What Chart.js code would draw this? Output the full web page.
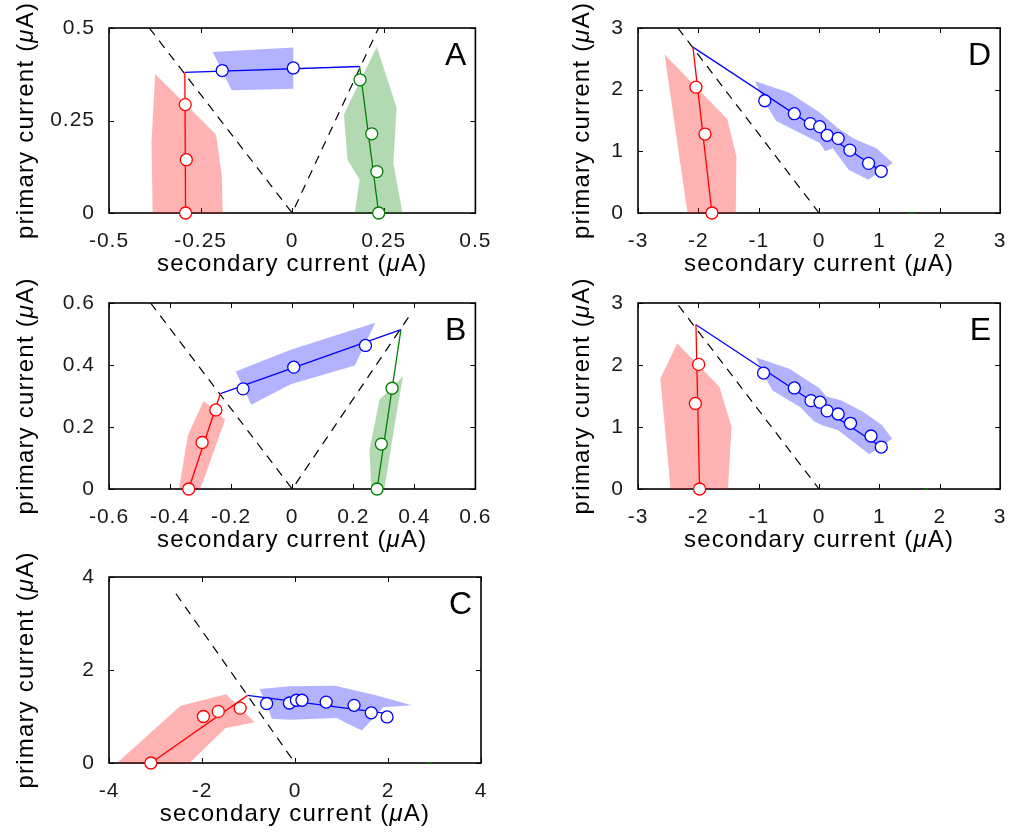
<!DOCTYPE html>
<html>
<head>
<meta charset="utf-8">
<script src="https://cdn.jsdelivr.net/npm/chart.js@4.4.1/dist/chart.umd.min.js"></script>
<style>
  html, body { margin: 0; padding: 0; background: #fff; }
  #fig { position: relative; width: 1022px; height: 834px; background: #fff; overflow: hidden; }
  canvas { position: absolute; }
</style>
</head>
<body>
<div id="fig"></div>
<script>
// ---- panel A ----
const aXTicks = [-0.5, -0.25, 0, 0.25, 0.5];
const aYTicks = [0, 0.25, 0.5];
const aRedBand = [[-0.374, 0.376], [-0.384, 0.189], [-0.381, 0], [-0.190, 0], [-0.192, 0.099], [-0.208, 0.212]];
const aBlueBand = [[-0.217, 0.435], [0.003, 0.447], [0.003, 0.336], [-0.165, 0.332]];
const aGreenBand = [[0.231, 0.449], [0.285, 0.284], [0.276, 0.135], [0.301, 0], [0.171, 0], [0.184, 0.090], [0.151, 0.144], [0.141, 0.266]];
const aRedLine = [[-0.293, 0.380], [-0.291, 0]];
const aBlueLine = [[-0.293, 0.380], [0.184, 0.396]];
const aGreenLine = [[0.184, 0.396], [0.236, 0]];
const aRedPts = [[-0.292, 0.293], [-0.289, 0.144], [-0.291, 0]];
const aBluePts = [[-0.191, 0.385], [0.003, 0.392]];
const aGreenPts = [[0.185, 0.360], [0.217, 0.214], [0.231, 0.112], [0.236, 0]];
const aDash = [[-0.39, 0.5], [0, 0], [0.238, 0.505]];

// ---- panel B ----
const bXTicks = [-0.6, -0.4, -0.2, 0, 0.2, 0.4, 0.6];
const bYTicks = [0, 0.2, 0.4, 0.6];
const bRedBand = [[-0.29, 0.285], [-0.220, 0.223], [-0.301, 0], [-0.371, 0], [-0.341, 0.175]];
const bBlueBand = [[-0.185, 0.379], [-0.005, 0.449], [0.272, 0.536], [0.205, 0.398], [-0.005, 0.338], [-0.134, 0.272]];
const bGreenBand = [[0.363, 0.363], [0.340, 0.234], [0.302, 0], [0.259, 0], [0.253, 0.126], [0.286, 0.288]];
const bRedLine = [[-0.235, 0.308], [-0.339, 0]];
const bBlueLine = [[-0.235, 0.308], [0.356, 0.514]];
const bGreenLine = [[0.356, 0.514], [0.278, 0]];
const bRedPts = [[-0.250, 0.255], [-0.295, 0.150], [-0.339, 0]];
const bBluePts = [[-0.161, 0.323], [0.005, 0.393], [0.240, 0.463]];
const bGreenPts = [[0.327, 0.325], [0.292, 0.145], [0.278, 0]];
const bDash = [[-0.464, 0.6], [0, 0], [0.383, 0.557]];

// ---- panel C ----
const cXTicks = [-4, -2, 0, 2, 4];
const cYTicks = [0, 2, 4];
const cRedBand = [[-3.83, 0], [-2.46, 1.23], [-1.48, 1.48], [-0.87, 0.875], [-1.50, 0.75], [-2.27, 0]];
const cBlueBand = [[-0.764, 1.59], [-0.104, 1.65], [0.864, 1.66], [1.76, 1.45], [2.51, 1.24], [1.90, 1.20], [1.44, 0.70], [1.12, 0.85], [0.90, 0.97], [-0.104, 0.93], [-0.50, 0.95], [-0.57, 1.18]];
const cRedLine = [[-3.10, 0], [-1.02, 1.455]];
const cBlueLine = [[-1.02, 1.455], [2.0, 1.06]];
const cRedPts = [[-3.10, 0], [-1.97, 1.00], [-1.65, 1.11], [-1.18, 1.18]];
const cBluePts = [[-0.61, 1.28], [-0.12, 1.29], [0.03, 1.35], [0.15, 1.35], [0.67, 1.31], [1.27, 1.24], [1.64, 1.08], [1.98, 0.99]];
const cGreenMark = [[2.85, 0], [2.92, 0]];
const cDash = [[-2.56, 3.64], [0, 0]];

// ---- panel D ----
const dXTicks = [-3, -2, -1, 0, 1, 2, 3];
const dYTicks = [0, 1, 2, 3];
const dRedBand = [[-2.56, 2.57], [-1.52, 1.52], [-1.37, 0.92], [-1.38, 0], [-2.18, 0]];
const dBlueBand = [[-1.06, 2.135], [-0.49, 1.95], [0.01, 1.63], [0.31, 1.38], [0.57, 1.21], [0.95, 1.05], [1.22, 0.81], [0.815, 0.54], [0.49, 0.70], [0.225, 1.05], [0.10, 1.00], [0.01, 1.135], [-0.71, 1.49], [-0.93, 1.84]];
const dRedLine = [[-2.09, 2.69], [-1.775, 0]];
const dBlueLine = [[-2.09, 2.69], [1.02, 0.686]];
const dRedPts = [[-2.04, 2.04], [-1.89, 1.28], [-1.775, 0]];
const dBluePts = [[-0.90, 1.82], [-0.41, 1.61], [-0.145, 1.45], [0.01, 1.40], [0.134, 1.26], [0.316, 1.21], [0.51, 1.02], [0.82, 0.805], [1.03, 0.676]];
const dGreenMark = [[1.50, 0], [1.56, 0]];
const dDash = [[-2.34, 3.0], [0, 0]];

// ---- panel E ----
const eXTicks = [-3, -2, -1, 0, 1, 2, 3];
const eYTicks = [0, 1, 2, 3];
const eRedBand = [[-2.35, 2.35], [-1.65, 1.645], [-1.45, 1.00], [-1.51, 0], [-2.46, 0], [-2.63, 1.78]];
const eBlueBand = [[-1.045, 2.12], [-0.49, 1.94], [0.01, 1.62], [0.12, 1.49], [0.36, 1.43], [0.735, 1.24], [1.045, 1.03], [1.21, 0.81], [0.83, 0.56], [0.57, 0.76], [0.31, 0.95], [0.05, 1.03], [-0.08, 1.09], [-0.31, 1.32], [-0.77, 1.59], [-0.885, 1.78]];
const eRedLine = [[-2.04, 2.65], [-1.98, 0]];
const eBlueLine = [[-2.04, 2.65], [1.03, 0.677]];
const eRedPts = [[-1.995, 2.01], [-2.05, 1.38], [-1.98, 0]];
const eBluePts = [[-0.92, 1.87], [-0.41, 1.63], [-0.134, 1.425], [0.016, 1.40], [0.134, 1.26], [0.316, 1.21], [0.52, 1.06], [0.86, 0.855], [1.03, 0.677]];
const eGreenMark = [[1.75, 0], [1.81, 0]];
const eDash = [[-2.33, 2.96], [0, 0]];

const xTitle = ['secondary current (', 'μ', 'A)'];
const yTitle = ['primary current (', 'μ', 'A)'];

const colors = {
    red: { line: '#ff0000', fill: 'rgba(255, 0, 0, 0.3)' },
    blue: { line: '#0000ff', fill: 'rgba(0, 0, 255, 0.3)' },
    green: { line: '#008000', fill: 'rgba(0, 128, 0, 0.3)' }
};

const FONT = '"Liberation Sans", Arial, Helvetica, sans-serif';

// layout: plot box of each panel in page pixels
const panels = [
    { letter: 'A', left: 109, top: 28, w: 372, h: 185, yTitleX: 26, xr: [-0.5, 0.5], yr: [0, 0.5], xt: aXTicks, yt: aYTicks,
      series: [['red', aRedBand, aRedLine, aRedPts], ['blue', aBlueBand, aBlueLine, aBluePts], ['green', aGreenBand, aGreenLine, aGreenPts]],
      dash: aDash, marks: [] },
    { letter: 'B', left: 109, top: 303, w: 372, h: 186, yTitleX: 26, xr: [-0.6, 0.6], yr: [0, 0.6], xt: bXTicks, yt: bYTicks,
      series: [['red', bRedBand, bRedLine, bRedPts], ['blue', bBlueBand, bBlueLine, bBluePts], ['green', bGreenBand, bGreenLine, bGreenPts]],
      dash: bDash, marks: [] },
    { letter: 'C', left: 109, top: 577, w: 372, h: 186, yTitleX: 26, xr: [-4, 4], yr: [0, 4], xt: cXTicks, yt: cYTicks,
      series: [['red', cRedBand, cRedLine, cRedPts], ['blue', cBlueBand, cBlueLine, cBluePts]],
      dash: cDash, marks: [cGreenMark] },
    { letter: 'D', left: 638, top: 28, w: 373, h: 185, yTitleX: 582, xr: [-3, 3], yr: [0, 3], xt: dXTicks, yt: dYTicks,
      series: [['red', dRedBand, dRedLine, dRedPts], ['blue', dBlueBand, dBlueLine, dBluePts]],
      dash: dDash, marks: [dGreenMark] },
    { letter: 'E', left: 638, top: 303, w: 373, h: 186, yTitleX: 582, xr: [-3, 3], yr: [0, 3], xt: eXTicks, yt: eYTicks,
      series: [['red', eRedBand, eRedLine, eRedPts], ['blue', eBlueBand, eBlueLine, eBluePts]],
      dash: eDash, marks: [eGreenMark] }
];

const AXIS_W = 109;   // room left of the plot box
const TOP_PAD = 28;
const AXIS_H = 72;    // room under the plot box

function xy(arr) {
    return arr.map(p => ({ x: p[0], y: p[1] }));
}

function drawParts(ctx, parts, x, y) {
    const fonts = ['24px ' + FONT, 'italic 24px ' + FONT, '24px ' + FONT];
    let total = 0;
    const widths = parts.map((t, i) => {
        ctx.font = fonts[i];
        const w = ctx.measureText(t).width;
        total += w;
        return w;
    });
    let cx = x - total / 2;
    parts.forEach((t, i) => {
        ctx.font = fonts[i];
        ctx.fillText(t, cx, y);
        cx += widths[i];
    });
}

const framePlugin = {
    id: 'frame',
    beforeDraw(chart) {
        chart.ctx.letterSpacing = '1px';
    },
    beforeDatasetsDraw(chart) {
        const { ctx, chartArea: a, scales } = chart;
        ctx.save();
        ctx.strokeStyle = '#000';
        ctx.lineWidth = 1;
        ctx.beginPath();
        scales.x.ticks.forEach(t => {
            const px = Math.round(scales.x.getPixelForValue(t.value)) + 0.5;
            ctx.moveTo(px, a.bottom); ctx.lineTo(px, a.bottom - 5);
            ctx.moveTo(px, a.top); ctx.lineTo(px, a.top + 5);
        });
        scales.y.ticks.forEach(t => {
            const py = Math.round(scales.y.getPixelForValue(t.value)) + 0.5;
            ctx.moveTo(a.left, py); ctx.lineTo(a.left + 5, py);
            ctx.moveTo(a.right, py); ctx.lineTo(a.right - 5, py);
        });
        ctx.stroke();
        ctx.lineWidth = 1.6;
        ctx.strokeRect(a.left, a.top, a.right - a.left, a.bottom - a.top);
        ctx.restore();
    },
    afterDraw(chart) {
        const { ctx, chartArea: a } = chart;
        const p = chart.options.plugins.frame;
        ctx.save();
        ctx.fillStyle = '#000';
        ctx.letterSpacing = '1.2px';
        ctx.textAlign = 'left';
        ctx.textBaseline = 'alphabetic';
        drawParts(ctx, xTitle, (a.left + a.right) / 2, a.bottom + 58);
        ctx.save();
        ctx.translate(p.yTitleX, (a.top + a.bottom) / 2);
        ctx.rotate(-Math.PI / 2);
        ctx.textBaseline = 'middle';
        drawParts(ctx, yTitle, 0, 0);
        ctx.restore();
        ctx.letterSpacing = '0px';
        ctx.font = '32px ' + FONT;
        ctx.textAlign = 'right';
        ctx.fillText(p.letter, a.right - 9, a.top + 37);
        ctx.restore();
    }
};

const fig = document.getElementById('fig');

panels.forEach(p => {
    const canvasLeft = p.left - AXIS_W;
    const canvasTop = p.top - TOP_PAD;
    const width = Math.min(1022 - canvasLeft, AXIS_W + p.w + 25);
    const height = TOP_PAD + p.h + AXIS_H;
    const cv = document.createElement('canvas');
    cv.width = width;
    cv.height = height;
    cv.style.left = canvasLeft + 'px';
    cv.style.top = canvasTop + 'px';
    cv.style.width = width + 'px';
    cv.style.height = height + 'px';
    fig.appendChild(cv);

    const datasets = [];
    p.series.forEach(([name, band, line, pts]) => {
        datasets.push({
            data: xy(pts), showLine: false, order: 0, clip: false,
            pointRadius: 6, pointBorderWidth: 1.3,
            pointBackgroundColor: '#fff', pointBorderColor: colors[name].line
        });
        datasets.push({
            data: xy(line), showLine: true, order: 1, fill: false,
            borderColor: colors[name].line, borderWidth: 1.3, pointRadius: 0
        });
        datasets.push({
            data: xy(band.concat([band[0]])), showLine: true, order: 4, fill: 'shape',
            backgroundColor: colors[name].fill, borderWidth: 0, pointRadius: 0
        });
    });
    p.marks.forEach(m => {
        datasets.push({
            data: xy(m), showLine: true, order: 1, clip: false,
            borderColor: colors.green.line, borderWidth: 1.5, pointRadius: 0
        });
    });
    datasets.push({
        data: xy(p.dash), showLine: true, order: 2, fill: false,
        borderColor: '#000', borderWidth: 1.2, borderDash: [9, 7], pointRadius: 0
    });

    const tickFont = { family: FONT, size: 21 };

    new Chart(cv, {
        type: 'scatter',
        data: { datasets: datasets },
        options: {
            responsive: false,
            animation: false,
            events: [],
            layout: { padding: { left: 0, top: TOP_PAD, right: width - AXIS_W - p.w, bottom: 0 } },
            plugins: {
                legend: { display: false },
                tooltip: { enabled: false },
                frame: { letter: p.letter, yTitleX: p.yTitleX - canvasLeft }
            },
            scales: {
                x: {
                    type: 'linear',
                    min: p.xr[0],
                    max: p.xr[1],
                    afterBuildTicks: s => { s.ticks = p.xt.map(v => ({ value: v })); },
                    afterFit: s => { s.height = AXIS_H; },
                    grid: { display: false, drawTicks: false },
                    border: { display: false },
                    ticks: {
                        font: tickFont, color: '#1a1a1a', padding: 16,
                        maxRotation: 0, autoSkip: false,
                        callback: v => String(v)
                    }
                },
                y: {
                    type: 'linear',
                    min: p.yr[0],
                    max: p.yr[1],
                    afterBuildTicks: s => { s.ticks = p.yt.map(v => ({ value: v })); },
                    afterFit: s => { s.width = AXIS_W; },
                    grid: { display: false, drawTicks: false },
                    border: { display: false },
                    ticks: {
                        font: tickFont, color: '#1a1a1a', padding: 14,
                        autoSkip: false,
                        callback: v => String(v)
                    }
                }
            }
        },
        plugins: [framePlugin]
    });
});
</script>
</body>
</html>
